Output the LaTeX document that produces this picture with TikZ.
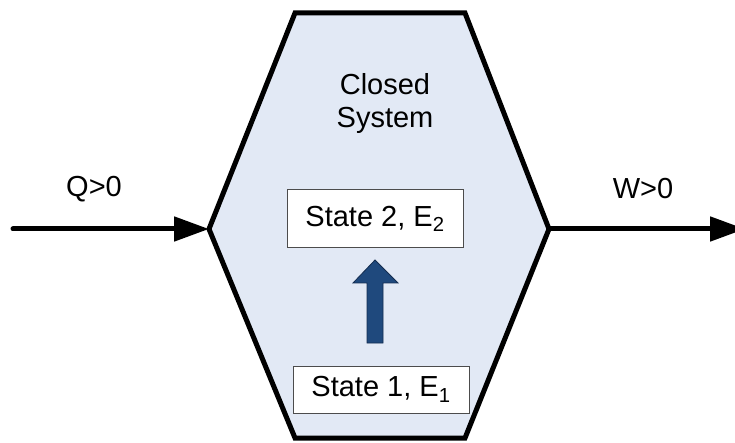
\documentclass[tikz,border=0pt]{standalone}
\usepackage{fontspec}
\setmainfont{Liberation Sans}
\usetikzlibrary{arrows.meta}
\definecolor{sysfill}{RGB}{226,233,245}
\definecolor{upblue}{RGB}{31,73,125}
\definecolor{upedge}{RGB}{20,45,80}
\tikzset{
  label text/.style={font=\fontsize{29bp}{33bp}\selectfont, inner sep=0pt, align=center},
  statebox/.style={draw=black!70, line width=1bp, fill=white, font=\fontsize{29bp}{33bp}\selectfont, inner sep=0pt},
  flow/.style={line width=5bp, line cap=round, -{Triangle[length=35bp,width=24bp]}},
}
\begin{document}
\begin{tikzpicture}[x=1bp, y=-1bp]
  \useasboundingbox (0,0) rectangle (735,443);

  % the system boundary
  \coordinate (tl) at (295,13);
  \coordinate (tr) at (465,13);
  \coordinate (R)  at (549,229);
  \coordinate (br) at (465,438);
  \coordinate (bl) at (295,438);
  \coordinate (L)  at (209,229);
  \draw[line width=5bp, line join=miter, fill=sysfill]
    (tl) -- (tr) -- (R) -- (br) -- (bl) -- (L) -- cycle;

  \node[label text] (sys) at (385,104) {Closed\\System};

  % heat in, work out
  \coordinate (qin)  at (13,229);
  \coordinate (wout) at (745,229);
  \draw[flow] (qin) -- (L);
  \draw[flow] (R) -- (wout);
  \node[label text] (q) at (94,189) {Q>0};
  \node[label text] (w) at (643,189) {W>0};

  % states
  \node[statebox, minimum width=176bp, minimum height=58bp] (s2) at (375,219) {State 2, E\textsubscript{2}};
  \node[statebox, minimum width=176bp, minimum height=47bp] (s1) at (381,389.5) {State 1, E\textsubscript{1}};

  % change of state
  \draw[fill=upblue, draw=upedge, line width=0.8bp, line join=miter]
    (367,343) -- (367,283) -- (353,283) -- (375,260) -- (398,283) -- (383,283) -- (383,343) -- cycle;
\end{tikzpicture}
\end{document}
